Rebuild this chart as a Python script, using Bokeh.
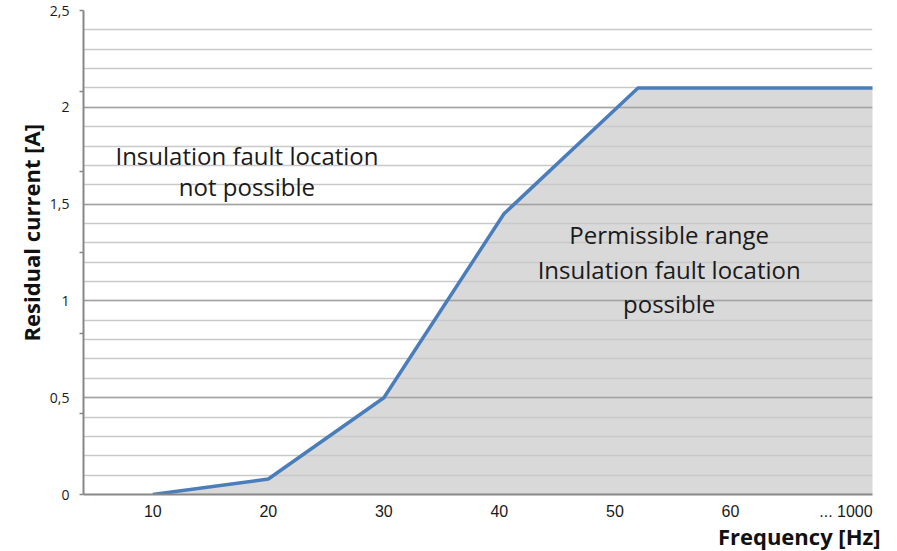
from bokeh.plotting import figure
from bokeh.models import FixedTicker, Range1d, Label, Title
from bokeh.embed import file_html
from bokeh.resources import INLINE

# Limit curve: residual current vs. frequency
freq_hz = [10, 20, 30, 40.4, 52, 72.4]
current_a = [0.0, 0.08, 0.5, 1.45, 2.1, 2.1]

x_ticks = [10, 20, 30, 40, 50, 60, 70]
x_tick_labels = ["10", "20", "30", "40", "50", "60", "... 1000"]
y_ticks = [0, 0.5, 1, 1.5, 2, 2.5]
y_tick_labels = ["0", "0,5", "1", "1,5", "2", "2,5"]

text_font = "Open Sans"

p = figure(width=897, height=551, output_backend="svg", toolbar_location=None,
           x_range=Range1d(4.0, 72.3), y_range=Range1d(0, 2.5),
           min_border_left=83, min_border_right=25, min_border_top=10,
           min_border_bottom=57)
p.outline_line_color = None
p.background_fill_color = "white"
p.border_fill_color = "white"

# Shaded permissible area under the curve
area = p.varea(x=freq_hz, y1=[0] * len(freq_hz), y2=current_a, fill_color="#d9d9d9")
area.level = "image"
p.line(freq_hz, current_a, line_color="#4a7ebb", line_width=3.5)

# Grid: every 0.1 A, darker every 0.5 A
p.xgrid.grid_line_color = None
p.ygrid.ticker = FixedTicker(ticks=y_ticks, minor_ticks=[round(i * 0.1, 1) for i in range(26)])
p.ygrid.grid_line_color = "#a3a3a3"
p.ygrid.grid_line_width = 1.5
p.ygrid.minor_grid_line_color = "#c9c9c9"
p.ygrid.minor_grid_line_width = 1.5

# Y axis
ya = p.yaxis[0]
ya.ticker = FixedTicker(ticks=y_ticks, minor_ticks=[2.5 * k / 6 for k in range(7)])
ya.major_label_overrides = {t: s for t, s in zip(y_ticks, y_tick_labels)}
ya.major_tick_out = 0
ya.major_tick_in = 0
ya.minor_tick_out = 4
ya.minor_tick_in = 0
ya.minor_tick_line_color = "#878787"
ya.minor_tick_line_width = 1.5
ya.axis_line_color = "#878787"
ya.axis_line_width = 2
ya.major_label_text_font = text_font
ya.major_label_text_font_size = "14px"
ya.major_label_text_color = "#1a1a1a"
ya.major_label_standoff = 10

# X axis
xa = p.xaxis[0]
xa.ticker = FixedTicker(ticks=x_ticks, minor_ticks=[])
xa.major_label_overrides = {t: s for t, s in zip(x_ticks, x_tick_labels)}
xa.major_tick_out = 0
xa.major_tick_in = 0
xa.minor_tick_out = 0
xa.minor_tick_in = 0
xa.axis_line_color = "#878787"
xa.axis_line_width = 2
xa.major_label_text_font = "Liberation Sans"
xa.major_label_text_font_size = "16px"
xa.major_label_text_color = "#1a1a1a"
xa.major_label_standoff = 8

# Axis titles
p.add_layout(Title(text="Residual current [A]", align="left", offset=153, standoff=2,
                   text_font=text_font, text_font_style="bold", text_font_size="22px",
                   text_color="#111111"), "left")
p.add_layout(Title(text="Frequency [Hz]", align="right", offset=-8, standoff=-7,
                   text_font=text_font, text_font_style="bold", text_font_size="22px",
                   text_color="#111111"), "below")

# Region descriptions
for x, y, s in [(18.15, 1.751, "Insulation fault location"),
                (18.15, 1.591, "not possible"),
                (54.7, 1.343, "Permissible range"),
                (54.7, 1.162, "Insulation fault location"),
                (54.7, 0.987, "possible")]:
    p.add_layout(Label(x=x, y=y, text=s, text_align="center", text_baseline="middle",
                       text_font=text_font, text_font_size="24px", text_color="#1a1a1a"))

open("out.html", "w").write(file_html(p, INLINE))
